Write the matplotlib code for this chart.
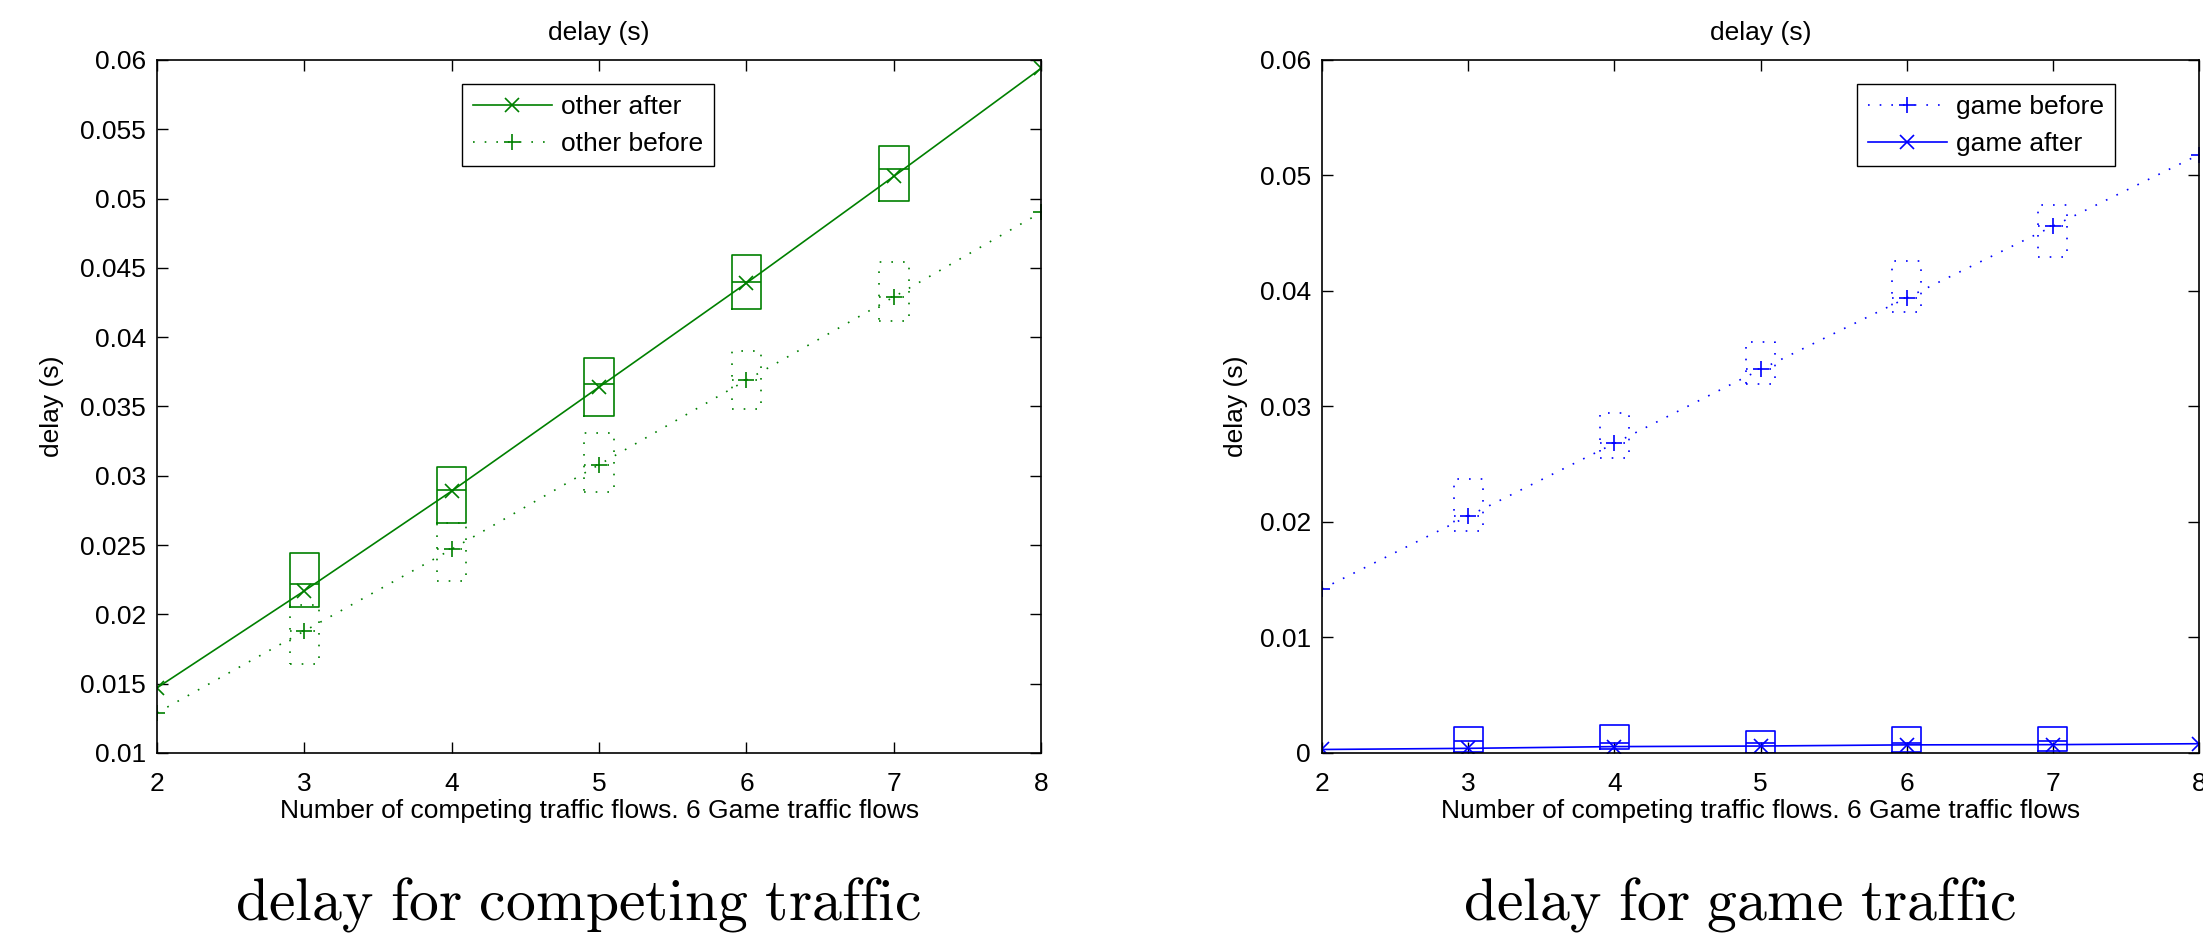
import matplotlib
matplotlib.use("Agg")
import matplotlib.pyplot as plt

# flows on the x axis
flows = [2, 3, 4, 5, 6, 7, 8]
box_flows = [3, 4, 5, 6, 7]

# competing traffic delay (s), means
other_after = [0.0147, 0.0217, 0.0289, 0.0364, 0.0439, 0.0516, 0.0594]
other_before = [0.0129, 0.0188, 0.0247, 0.0308, 0.0369, 0.0429, 0.0490]
# competing traffic boxes (q1, median, q3)
other_after_q1 = [0.0205, 0.0266, 0.0343, 0.0420, 0.0498]
other_after_med = [0.0222, 0.0290, 0.0366, 0.0440, 0.0521]
other_after_q3 = [0.0244, 0.0306, 0.0385, 0.0459, 0.0538]
other_before_q1 = [0.0164, 0.0224, 0.0288, 0.0348, 0.0412]
other_before_med = [0.0188, 0.0247, 0.0308, 0.0369, 0.0429]
other_before_q3 = [0.0207, 0.0266, 0.0331, 0.0390, 0.0454]

# game traffic delay (s), means
game_before = [0.0142, 0.0205, 0.0268, 0.0332, 0.0394, 0.0456, 0.0518]
game_after = [0.0003, 0.0004, 0.00055, 0.0006, 0.0007, 0.00072, 0.0008]
# game traffic boxes
game_before_q1 = [0.0192, 0.0255, 0.0319, 0.0382, 0.0429]
game_before_med = [0.0205, 0.0268, 0.0332, 0.0394, 0.0456]
game_before_q3 = [0.0237, 0.0294, 0.0356, 0.0426, 0.0474]
game_after_q1 = [0.0001, 0.0003, 0.0, 0.0001, 0.0002]
game_after_med = [0.0010, 0.0009, 0.0009, 0.0009, 0.0010]
game_after_q3 = [0.00225, 0.00245, 0.0019, 0.00225, 0.00225]

left_yticks = [0.01, 0.015, 0.02, 0.025, 0.03, 0.035, 0.04, 0.045, 0.05, 0.055, 0.06]
left_yticklabels = ["0.01", "0.015", "0.02", "0.025", "0.03", "0.035", "0.04",
                    "0.045", "0.05", "0.055", "0.06"]
right_yticks = [0, 0.01, 0.02, 0.03, 0.04, 0.05, 0.06]
right_yticklabels = ["0", "0.01", "0.02", "0.03", "0.04", "0.05", "0.06"]

GREEN = (0, 0.5, 0)
BLUE = (0, 0, 1)
DOT = (0, (1, 6))
FS = 19

plt.rcParams["font.family"] = ["Liberation Sans", "DejaVu Sans"]
plt.rcParams["mathtext.fontset"] = "cm"


def caixas(ax, q1, med, q3, cor, estilo):
    stats = []
    for a, m, b in zip(q1, med, q3):
        stats.append(dict(q1=a, med=m, q3=b, whislo=a, whishi=b, fliers=[]))
    ax.bxp(stats, positions=box_flows, widths=0.2, showcaps=False,
           showfliers=False, manage_ticks=False,
           boxprops=dict(color=cor, linestyle=estilo, linewidth=1.2),
           medianprops=dict(color=cor, linestyle=estilo, linewidth=1.2),
           whiskerprops=dict(linewidth=0))


def arruma(ax, yticks, ylabels):
    ax.set_xlim(2, 8)
    ax.set_ylim(yticks[0], yticks[-1])
    ax.set_xticks(flows)
    ax.set_xticklabels([str(f) for f in flows])
    ax.set_yticks(yticks)
    ax.set_yticklabels(ylabels)
    ax.tick_params(direction="in", top=True, right=True, length=8, width=1,
                   labelsize=FS, pad=8)
    ax.tick_params(axis="x", pad=14)
    for s in ax.spines.values():
        s.set_linewidth(1.2)
    ax.set_title("delay (s)", fontsize=FS, pad=14)
    ax.set_xlabel("Number of competing traffic flows. 6 Game traffic flows", fontsize=FS)
    ax.xaxis.set_label_coords(0.5, -0.066)
    ax.set_ylabel("delay (s)", fontsize=FS)


def legenda(ax, x0):
    ax.legend(loc="upper left", bbox_to_anchor=(x0, 0.965), borderaxespad=0,
              fancybox=False, edgecolor="black", framealpha=1, fontsize=FS,
              handlelength=3.0, borderpad=0.4, labelspacing=0.5, handletextpad=0.35)


fig = plt.figure(figsize=(22.03, 9.35), dpi=100)
ax1 = fig.add_axes([0.0713, 0.1947, 0.4013, 0.7412])
ax2 = fig.add_axes([0.6001, 0.1947, 0.3981, 0.7412])

# esquerda: trafego concorrente
caixas(ax1, other_after_q1, other_after_med, other_after_q3, GREEN, "-")
caixas(ax1, other_before_q1, other_before_med, other_before_q3, GREEN, DOT)
ax1.plot(flows, other_after, color=GREEN, linestyle="-", linewidth=1.2,
         marker="x", markersize=10, markeredgewidth=1.2, label="other after")
ax1.plot(flows, other_before, color=GREEN, linestyle=DOT, linewidth=1.2,
         marker="+", markersize=12, markeredgewidth=1.2, label="other before")
arruma(ax1, left_yticks, left_yticklabels)
ax1.yaxis.set_label_coords(-0.105, 0.5)
legenda(ax1, 0.345)

# direita: trafego do jogo
caixas(ax2, game_before_q1, game_before_med, game_before_q3, BLUE, DOT)
caixas(ax2, game_after_q1, game_after_med, game_after_q3, BLUE, "-")
ax2.plot(flows, game_before, color=BLUE, linestyle=DOT, linewidth=1.2,
         marker="+", markersize=12, markeredgewidth=1.2, label="game before")
ax2.plot(flows, game_after, color=BLUE, linestyle="-", linewidth=1.2,
         marker="x", markersize=10, markeredgewidth=1.2, label="game after")
arruma(ax2, right_yticks, right_yticklabels)
ax2.yaxis.set_label_coords(-0.084, 0.5)
legenda(ax2, 0.61)

fig.text(578 / 2203, 0.017, r"$\mathrm{delay\ for\ competing\ traffic}$",
         ha="center", va="baseline", fontsize=43)
fig.text(1740 / 2203, 0.017, r"$\mathrm{delay\ for\ game\ traffic}$",
         ha="center", va="baseline", fontsize=43)

fig.savefig("out.png", dpi=100)
